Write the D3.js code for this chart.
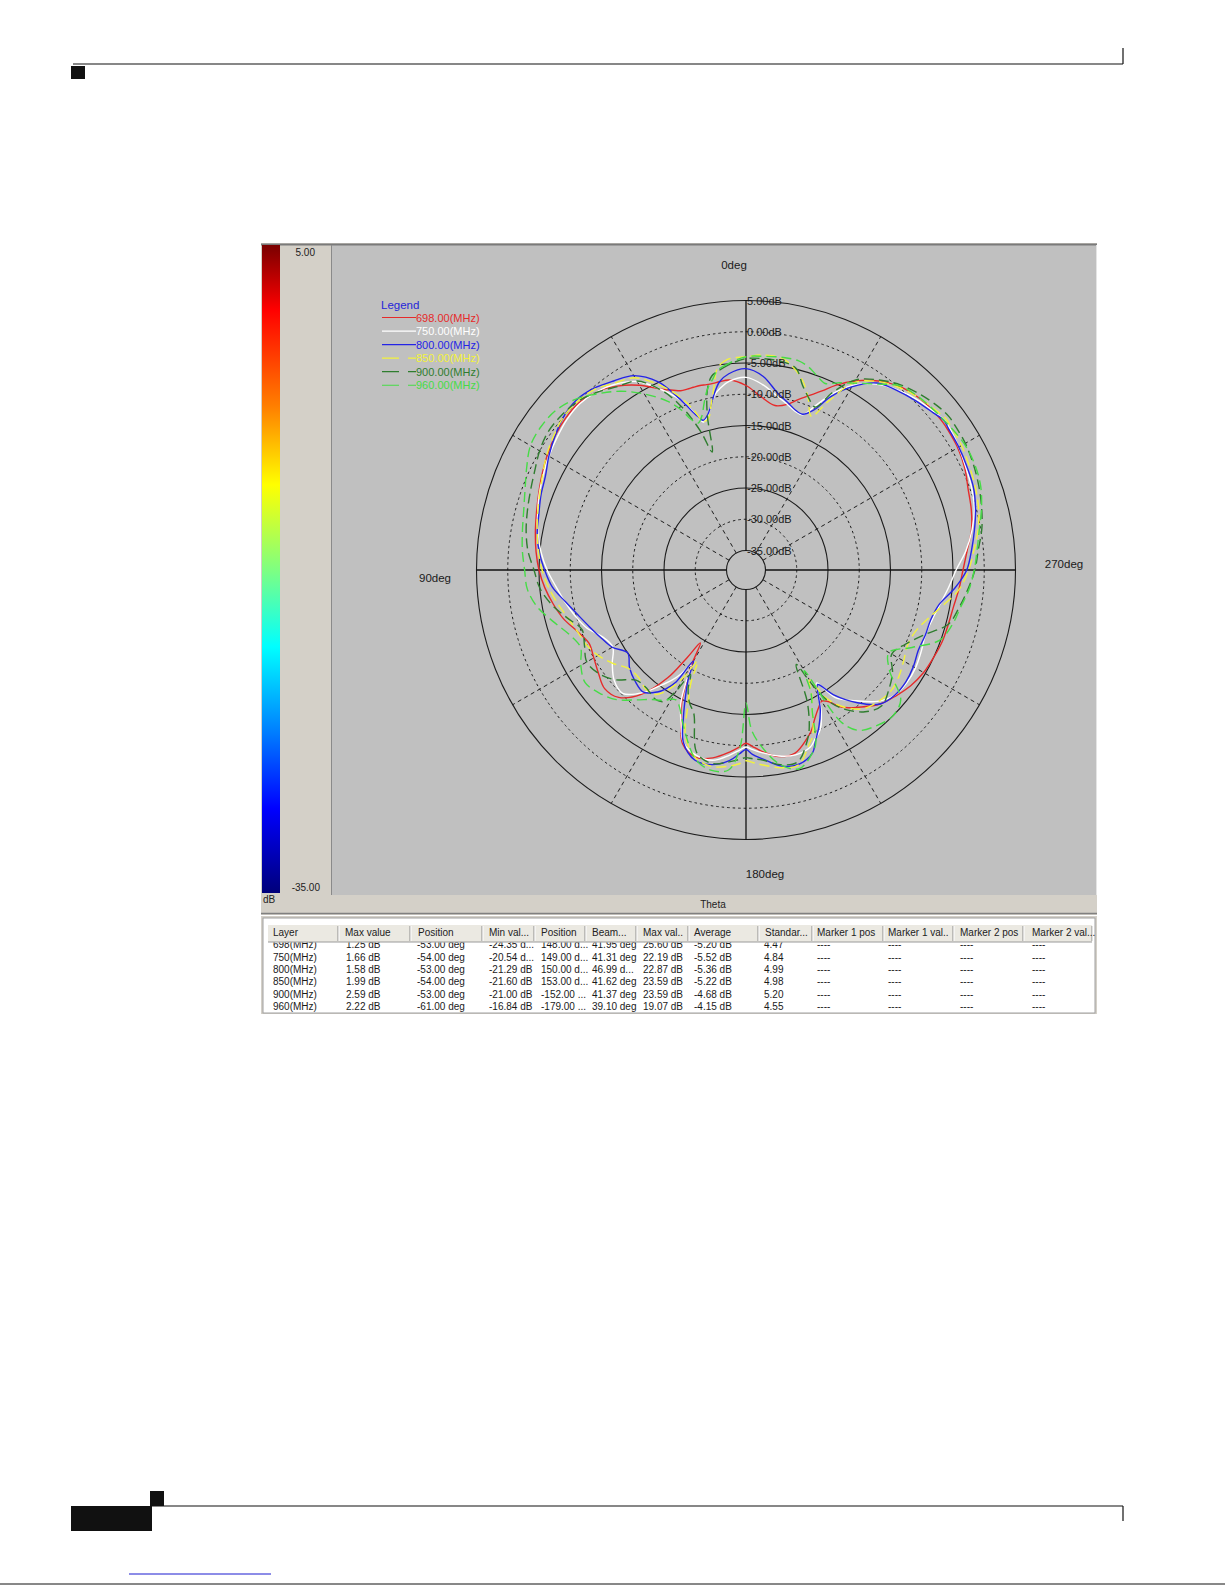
<!DOCTYPE html>
<html><head><meta charset="utf-8">
<script src="https://cdn.jsdelivr.net/npm/d3@7"></script>
<style>body{margin:0;background:#fff}svg{display:block}text{font-family:"Liberation Sans",Arial,sans-serif}</style>
</head><body><svg id="c" width="1225" height="1585"></svg>
<script>
// ---------- DATA ----------
const angles=[0,5,8,10,12,14,16,18,20,22,25,30,35,40,45,50,55,60,65,70,75,80,85,90,95,100,105,110,115,120,125,130,135,140,144,146,148,150,152,154,157,160,165,170,175,178,180,182,185,190,195,200,202,205,208,210,212,215,220,225,230,235,240,245,250,255,260,265,270,275,280,285,290,295,300,305,307,310,315,320,325,330,334,337,340,343,346,350,355];
const db698=[-8.6,-7.6,-7.7,-7.8,-7.8,-7.7,-7.7,-7.7,-7.6,-7.1,-6.2,-4.0,-2.2,-0.9,-0.3,-0.4,-0.8,-1.4,-2.1,-2.8,-3.4,-3.9,-4.4,-5.0,-5.8,-6.8,-7.9,-9.4,-10.4,-10.0,-9.3,-8.6,-9.3,-12.2,-16.8,-21.0,-24.35,-21.0,-17.8,-14.7,-11.5,-8.5,-7.1,-7.6,-8.9,-9.8,-10.4,-9.9,-9.0,-7.8,-7.8,-9.5,-10.3,-12.0,-13.3,-13.9,-13.3,-11.3,-9.5,-7.8,-6.8,-5.9,-5.3,-5.0,-4.7,-4.6,-4.4,-3.9,-3.4,-2.6,-1.5,-0.8,-0.3,0.5,1.0,1.2,1.25,1.2,0.9,0.2,-1.2,-3.2,-5.2,-7.0,-8.4,-9.6,-10.8,-11.4,-10.3];
const db750=[-7.3,-7.8,-8.7,-9.6,-11.2,-12.7,-13.5,-12.0,-9.8,-8.3,-6.3,-3.3,-1.8,-0.9,-0.5,-0.7,-1.2,-1.7,-2.3,-2.9,-3.6,-4.3,-5.2,-6.3,-7.6,-8.7,-9.8,-11.0,-12.8,-13.5,-12.0,-10.6,-10.2,-12.5,-15.5,-16.8,-18.5,-20.54,-17.5,-14.3,-11.5,-8.8,-7.4,-7.2,-8.4,-9.3,-9.8,-9.4,-8.8,-7.9,-7.5,-8.0,-8.8,-10.0,-12.5,-15.0,-16.8,-13.2,-10.8,-8.4,-7.0,-6.7,-6.8,-7.2,-7.6,-7.3,-6.6,-5.6,-4.5,-2.8,-1.4,-0.3,0.3,0.7,1.2,1.6,1.66,1.2,0.5,-0.5,-1.8,-4.0,-6.8,-9.5,-11.7,-11.5,-10.8,-9.8,-8.3];
const db800=[-5.9,-6.6,-7.7,-9.3,-11.2,-12.6,-13.2,-12.0,-10.0,-7.9,-4.9,-2.2,-1.2,-0.2,0.3,0.0,-0.8,-1.7,-2.7,-3.2,-3.8,-4.2,-4.9,-5.9,-7.0,-8.8,-10.3,-11.5,-12.5,-13.4,-15.0,-13.8,-13.0,-12.6,-14.0,-15.2,-17.0,-21.29,-18.5,-16.2,-12.5,-8.8,-6.6,-6.5,-7.5,-8.7,-9.4,-8.6,-7.8,-6.3,-5.9,-7.0,-8.5,-10.5,-12.8,-15.0,-16.5,-13.8,-10.4,-7.8,-7.0,-6.9,-7.2,-7.7,-7.6,-7.5,-6.7,-4.6,-2.8,-1.9,-1.0,-0.1,0.6,0.9,1.2,1.4,1.58,1.0,0.2,-0.6,-1.6,-4.3,-7.3,-10.3,-11.6,-11.3,-10.5,-9.3,-7.0];
const db850=[-4.0,-4.3,-5.5,-8.5,-11.2,-13.2,-13.4,-11.3,-9.3,-7.6,-5.5,-2.6,-1.6,-0.4,0.0,0.0,-0.6,-1.3,-2.2,-3.0,-3.6,-4.2,-4.8,-5.5,-6.4,-7.5,-8.6,-9.4,-9.9,-10.8,-12.1,-13.6,-13.8,-13.2,-13.5,-14.5,-16.2,-18.5,-21.6,-18.0,-14.2,-9.8,-7.0,-6.2,-6.6,-7.1,-7.6,-7.3,-6.8,-6.0,-5.8,-8.5,-9.6,-13.0,-15.8,-17.8,-14.0,-11.5,-9.1,-8.3,-7.9,-8.3,-9.0,-9.6,-9.3,-8.0,-6.0,-3.8,-2.5,-1.5,-0.4,0.4,0.9,1.3,1.7,1.9,1.99,1.6,0.9,0.0,-1.3,-3.5,-8.1,-11.4,-9.0,-6.7,-5.2,-3.8,-3.6];
const db900=[-4.3,-5.2,-6.0,-6.6,-8.5,-12.5,-18.5,-15.0,-12.0,-9.5,-6.5,-3.2,-2.3,-1.0,0.0,0.4,0.5,0.0,-0.8,-1.4,-1.9,-2.4,-3.1,-4.2,-5.0,-6.5,-8.5,-10.2,-9.6,-8.7,-9.3,-10.8,-13.2,-13.4,-12.9,-12.9,-13.3,-15.8,-19.2,-17.0,-15.0,-13.7,-7.8,-6.7,-7.3,-7.8,-8.1,-7.9,-7.6,-6.5,-6.3,-9.3,-11.1,-15.0,-21.0,-17.0,-13.5,-11.0,-8.5,-7.4,-8.3,-9.5,-11.2,-10.0,-7.8,-4.6,-3.5,-2.5,-1.5,-0.8,0.2,0.9,1.5,2.0,2.4,2.55,2.59,2.3,1.5,0.5,-1.0,-3.0,-6.5,-9.8,-8.8,-7.2,-4.9,-4.3,-4.2];
const db960=[-4.0,-5.0,-5.8,-7.2,-8.5,-10.5,-12.5,-13.4,-12.5,-10.5,-8.3,-5.6,-3.2,-1.3,0.5,1.6,1.9,1.7,0.6,-0.5,-1.3,-1.8,-2.2,-2.7,-3.0,-4.2,-6.2,-8.0,-8.9,-7.6,-6.7,-7.5,-8.8,-11.0,-12.5,-13.0,-13.5,-14.3,-14.5,-13.8,-12.0,-10.0,-6.8,-5.6,-6.0,-9.5,-16.84,-12.5,-9.8,-6.5,-5.2,-7.0,-8.3,-13.0,-16.0,-19.5,-9.5,-6.8,-5.6,-5.0,-5.8,-10.1,-11.7,-8.8,-5.2,-4.0,-3.3,-2.3,-1.6,-1.0,-0.2,0.9,1.8,2.2,2.22,1.8,1.6,1.4,1.0,0.3,-1.8,-3.6,-4.8,-5.7,-5.0,-4.1,-3.6,-3.6,-3.8];
const seriesNames=["698.00(MHz)","750.00(MHz)","800.00(MHz)","850.00(MHz)","900.00(MHz)","960.00(MHz)"];
const seriesValues=[db698,db750,db800,db850,db900,db960];
const seriesColors=["#e62a2a","#ffffff","#2424e6","#f2f23c","#2f7d2f","#46dc46"];
const seriesDashed=[false,false,false,true,true,true];
const ringTicks=[5,0,-5,-10,-15,-20,-25,-30,-35];
const spokeAngles=[30,60,120,150,210,240,300,330];
const axisAngles=[0,90,180,270];
const colorbarTicks=[5,-35];
const tableHeaders=["Layer","Max value","Position","Min val...","Position","Beam...","Max val..","Average","Standar...","Marker 1 pos","Marker 1 val..","Marker 2 pos","Marker 2 val..."];
const tableRows=[
 ["698(MHz)","1.25 dB","-53.00 deg","-24.35 d...","148.00 d...","41.95 deg","25.60 dB","-5.20 dB","4.47","----","----","----","----"],
 ["750(MHz)","1.66 dB","-54.00 deg","-20.54 d...","149.00 d...","41.31 deg","22.19 dB","-5.52 dB","4.84","----","----","----","----"],
 ["800(MHz)","1.58 dB","-53.00 deg","-21.29 dB","150.00 d...","46.99 d...","22.87 dB","-5.36 dB","4.99","----","----","----","----"],
 ["850(MHz)","1.99 dB","-54.00 deg","-21.60 dB","153.00 d...","41.62 deg","23.59 dB","-5.22 dB","4.98","----","----","----","----"],
 ["900(MHz)","2.59 dB","-53.00 deg","-21.00 dB","-152.00 ...","41.37 deg","23.59 dB","-4.68 dB","5.20","----","----","----","----"],
 ["960(MHz)","2.22 dB","-61.00 deg","-16.84 dB","-179.00 ...","39.10 deg","19.07 dB","-4.15 dB","4.55","----","----","----","----"]
];

// ---------- DRAW ----------
const svg=d3.select("#c");
const ink="#111";
// page decorations
svg.append("line").attr("x1",73).attr("x2",1123).attr("y1",64).attr("y2",64).attr("stroke",ink).attr("stroke-width",1.2);
svg.append("line").attr("x1",1123).attr("x2",1123).attr("y1",48).attr("y2",64).attr("stroke",ink).attr("stroke-width",1.2);
svg.append("rect").attr("x",71).attr("y",66).attr("width",14).attr("height",13).attr("fill",ink);
svg.append("line").attr("x1",152).attr("x2",1123).attr("y1",1506).attr("y2",1506).attr("stroke",ink).attr("stroke-width",1.2);
svg.append("line").attr("x1",1123).attr("x2",1123).attr("y1",1506).attr("y2",1521).attr("stroke",ink).attr("stroke-width",1.2);
svg.append("rect").attr("x",71).attr("y",1506).attr("width",81).attr("height",25).attr("fill",ink);
svg.append("rect").attr("x",150).attr("y",1491).attr("width",14).attr("height",15).attr("fill",ink);
svg.append("line").attr("x1",129).attr("x2",271).attr("y1",1574).attr("y2",1574).attr("stroke","#1a1ad0").attr("stroke-width",1);
svg.append("line").attr("x1",0).attr("x2",1225).attr("y1",1584).attr("y2",1584).attr("stroke",ink).attr("stroke-width",1);

// window panel
const P={x0:261,x1:1097,y0:243,y1:1014};
svg.append("rect").attr("x",P.x0).attr("y",P.y0).attr("width",P.x1-P.x0).attr("height",P.y1-P.y0).attr("fill","#d4d0c8");
// plot area
const plot={x0:332,x1:1097,y0:245,y1:895};
svg.append("rect").attr("x",plot.x0).attr("y",plot.y0).attr("width",plot.x1-plot.x0).attr("height",plot.y1-plot.y0).attr("fill","#c0c0c0");
svg.append("line").attr("x1",P.x0).attr("x2",P.x1).attr("y1",244.5).attr("y2",244.5).attr("stroke","#7a7a7a").attr("stroke-width",2);
svg.append("line").attr("x1",331.5).attr("x2",331.5).attr("y1",245).attr("y2",895).attr("stroke","#8a8a8a").attr("stroke-width",1);
svg.append("line").attr("x1",P.x1-0.5).attr("x2",P.x1-0.5).attr("y1",245).attr("y2",895).attr("stroke","#e4e4e4").attr("stroke-width",1);

// colorbar
const defs=svg.append("defs");
const grad=defs.append("linearGradient").attr("id","jet").attr("x1",0).attr("x2",0).attr("y1",0).attr("y2",1);
[[0,"#7a0000"],[0.1,"#ff0000"],[0.25,"#ff8000"],[0.37,"#ffff00"],[0.5,"#80ff80"],[0.62,"#00ffff"],[0.75,"#0080ff"],[0.87,"#0000ff"],[1,"#00007a"]]
 .forEach(s=>grad.append("stop").attr("offset",s[0]).attr("stop-color",s[1]));
const cb={x:262,w:18,y0:245,y1:893};
const cbScale=d3.scaleLinear().domain([5,-35]).range([cb.y0,cb.y1]);
svg.append("rect").attr("x",cb.x).attr("y",cb.y0).attr("width",cb.w).attr("height",cb.y1-cb.y0).attr("fill","url(#jet)");
colorbarTicks.forEach(v=>{
  svg.append("text").attr("x",v===5?315:320).attr("y",cbScale(v)+(v===5?10.5:-2.5)).attr("text-anchor","end")
   .attr("font-size",10).attr("fill","#222").text(v.toFixed(2));
});
svg.append("text").attr("x",263).attr("y",903).attr("font-size",10).attr("fill","#222").text("dB");

// polar grid
const cx=746, cy=570;
const rS=d3.scaleLinear().domain([-35,5]).range([19.5,269.5]);
const g=svg.append("g").attr("transform",`translate(${cx},${cy})`);
ringTicks.forEach(v=>{
  const solid=((5-v)/5)%2===0;
  g.append("circle").attr("r",rS(v)).attr("fill","none").attr("stroke","#1c1c1c")
   .attr("stroke-width",solid?1.1:1).attr("stroke-dasharray",solid?null:"2.5,3");
});
const rad=a=>a*Math.PI/180;
spokeAngles.forEach(a=>{
  g.append("line").attr("x1",-rS(-35)*Math.sin(rad(a))).attr("y1",-rS(-35)*Math.cos(rad(a)))
   .attr("x2",-rS(5)*Math.sin(rad(a))).attr("y2",-rS(5)*Math.cos(rad(a)))
   .attr("stroke","#1c1c1c").attr("stroke-dasharray","4,3.5").attr("stroke-width",1);
});
axisAngles.forEach(a=>{
  g.append("line").attr("x1",-rS(-35)*Math.sin(rad(a))).attr("y1",-rS(-35)*Math.cos(rad(a)))
   .attr("x2",-rS(5)*Math.sin(rad(a))).attr("y2",-rS(5)*Math.cos(rad(a)))
   .attr("stroke","#111").attr("stroke-width",1.3);
});
// angle labels
[["0deg",-12,-301],["90deg",-311,12],["180deg",19,308],["270deg",318,-2]].forEach(d=>{
  g.append("text").attr("x",d[1]).attr("y",d[2]).attr("text-anchor","middle").attr("font-size",11.5).attr("fill","#1a1a1a").text(d[0]);
});

// series
const line=d3.lineRadial().angle(d=>-rad(d[0])).radius(d=>rS(d[1])).curve(d3.curveCatmullRomClosed.alpha(0.5));
seriesValues.forEach((vals,i)=>{
  const pts=angles.map((a,k)=>[a,vals[k]]);
  g.append("path").attr("d",line(pts)).attr("fill","none").attr("stroke",seriesColors[i])
   .attr("stroke-width",1.4).attr("stroke-dasharray",seriesDashed[i]?"10,5":null);
});
// ring labels (on top)
ringTicks.forEach(v=>{
  g.append("text").attr("x",1).attr("y",-rS(v)+4).attr("font-size",11).attr("fill","#1a1a1a")
   .text(v.toFixed(2)+"dB");
});

// legend
const lg=svg.append("g").attr("transform","translate(382,0)");
lg.append("text").attr("x",-1).attr("y",305+4).attr("font-size",11.5).attr("fill","#2626d8").text("Legend");
seriesNames.forEach((n,i)=>{
  const y=317.5+13.55*i;
  lg.append("line").attr("x1",0).attr("x2",34).attr("y1",y).attr("y2",y).attr("stroke",seriesColors[i])
   .attr("stroke-width",1.2).attr("stroke-dasharray",seriesDashed[i]?"17,9":null);
  lg.append("text").attr("x",34).attr("y",y+4).attr("font-size",11).attr("fill",seriesColors[i]).text(n);
});

// theta bar
svg.append("text").attr("x",713).attr("y",907.5).attr("text-anchor","middle").attr("font-size",10).attr("fill","#222").text("Theta");
svg.append("line").attr("x1",P.x0).attr("x2",P.x1).attr("y1",913.5).attr("y2",913.5).attr("stroke","#808080").attr("stroke-width",1.5);
svg.append("line").attr("x1",P.x0).attr("x2",P.x1).attr("y1",915.5).attr("y2",915.5).attr("stroke","#ffffff").attr("stroke-width",1);

// table
const tb={x0:263,x1:1095,y0:918,y1:1013};
svg.append("rect").attr("x",tb.x0).attr("y",tb.y0).attr("width",tb.x1-tb.x0).attr("height",tb.y1-tb.y0).attr("fill","#fff").attr("stroke","#a0a0a0");
const colSep=[338,410,482,534,585,636,688,758,812,883,953,1023,1092];
const headX=[273,345,418,489,541,592,643,694,765,817,888,960,1032];
const cellX=[273,346,417,489,541,592,643,694,764,817,888,960,1032];
const head={y0:925,y1:942};
svg.append("rect").attr("x",268).attr("y",head.y0).attr("width",1092-268).attr("height",head.y1-head.y0).attr("fill","#ebe9e2");
svg.append("line").attr("x1",268).attr("x2",1092).attr("y1",head.y1).attr("y2",head.y1).attr("stroke","#9a9a9a");
colSep.forEach(x=>{
  svg.append("line").attr("x1",x).attr("x2",x).attr("y1",head.y0+1).attr("y2",head.y1-1).attr("stroke","#8c8c8c");
  svg.append("line").attr("x1",x+1).attr("x2",x+1).attr("y1",head.y0+1).attr("y2",head.y1-1).attr("stroke","#fff");
});
tableHeaders.forEach((h,i)=>{
  svg.append("text").attr("x",headX[i]).attr("y",935.5).attr("font-size",10).attr("fill","#222").text(h);
});
defs.append("clipPath").attr("id","rowsClip").append("rect").attr("x",263).attr("y",head.y1+0.5).attr("width",832).attr("height",tb.y1-head.y1-1);
const rowsG=svg.append("g").attr("clip-path","url(#rowsClip)");
tableRows.forEach((row,r)=>{
  const y=944.5+12.4*r+3.6;
  row.forEach((c,i)=>{
    rowsG.append("text").attr("x",cellX[i]).attr("y",y).attr("font-size",10).attr("fill","#1a1a1a").text(c);
  });
});
</script></body></html>
